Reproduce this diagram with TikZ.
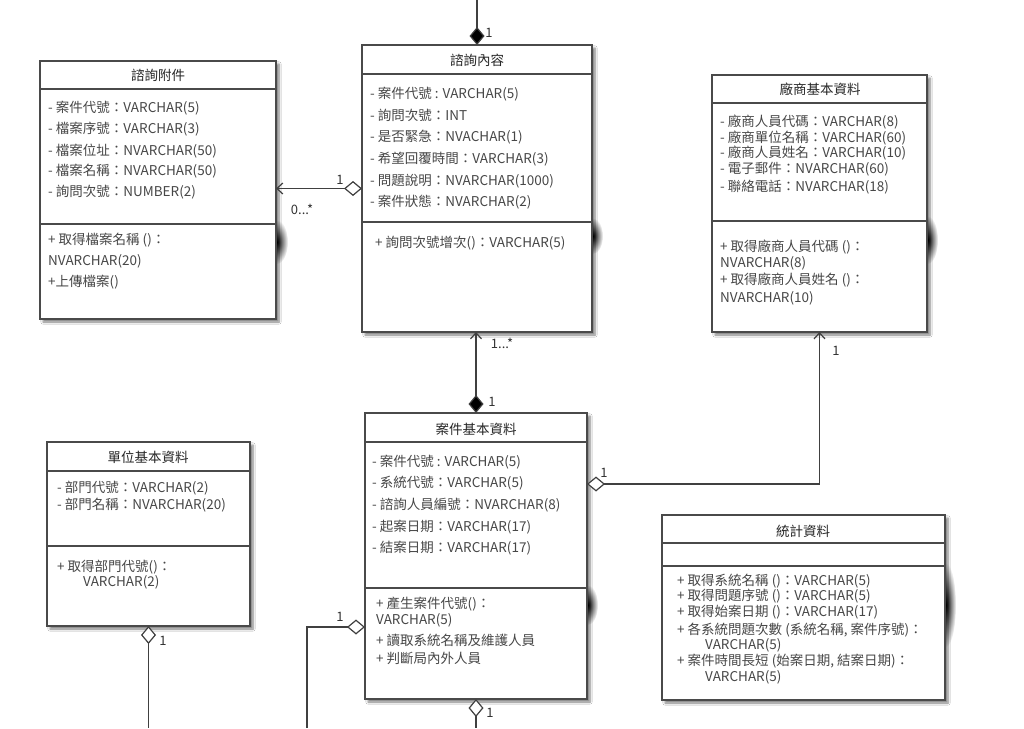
\documentclass[tikz,border=0pt]{standalone}
\usepackage{fontspec}
\setmainfont{Noto Sans CJK TC}
\usetikzlibrary{arrows.meta,shadows.blur,fadings}
\definecolor{bord}{HTML}{4A4A4A}
\definecolor{txt}{HTML}{474747}
\tikzfading[name=blobfade, inner color=transparent!0, outer color=transparent!100]
\begin{document}
\begin{tikzpicture}[x=1pt,y=-1pt,
  cbox/.style={draw=bord, line width=1.4pt, fill=white, inner sep=0pt, outer sep=0pt, anchor=north west,
    blur shadow={shadow xshift=3pt, shadow yshift=-3pt, shadow blur steps=6, shadow opacity=50}},
  divl/.style={draw=bord, line width=1.2pt},
  attr/.style={anchor=west, inner sep=0pt, text=txt, font=\fontsize{13.5}{15}\selectfont},
  ttl/.style={inner sep=0pt, text=black!85, font=\fontsize{13.5}{15}\selectfont},
  lbl/.style={inner sep=0pt, text=black!80, font=\fontsize{13}{15}\selectfont},
  conn/.style={draw=black!75, line width=1.2pt},
  blob/.style={fill=black, path fading=blobfade},
  fdiam/.tip={Diamond[fill=black, length=18pt, width=15pt]},
  odiam/.tip={Diamond[fill=white, length=18pt, width=15pt]},
  barb/.tip={Straight Barb[length=6pt, width=11pt]}
]
\useasboundingbox (0,0) rectangle (1024,728);
\fill[white] (0,0) rectangle (1024,728);

% side smears
\fill[blob] (277,242) ellipse [x radius=11pt, y radius=22pt];
\fill[blob] (593,236) ellipse [x radius=10pt, y radius=18pt];
\fill[blob] (928,240) ellipse [x radius=10pt, y radius=24pt];
\fill[blob] (588,605) ellipse [x radius=10pt, y radius=20pt];
\fill[blob] (946,605) ellipse [x radius=10pt, y radius=42pt];

% ---------------- boxes ----------------
\node[cbox, minimum width=236pt, minimum height=258pt] (fj) at (40,61) {};
\node[cbox, minimum width=230pt, minimum height=287pt] (nr) at (362,45) {};
\node[cbox, minimum width=215pt, minimum height=257pt] (cs) at (712,75) {};
\node[cbox, minimum width=203pt, minimum height=184pt] (dw) at (47,442) {};
\node[cbox, minimum width=222pt, minimum height=286pt] (aj) at (365,413) {};
\node[cbox, minimum width=283pt, minimum height=185pt] (tj) at (662,515) {};

% dividers
\draw[divl] ([yshift=-28pt]fj.north west) -- ([yshift=-28pt]fj.north east);
\draw[divl] ([yshift=-163pt]fj.north west) -- ([yshift=-163pt]fj.north east);
\draw[divl] ([yshift=-29pt]nr.north west) -- ([yshift=-29pt]nr.north east);
\draw[divl] ([yshift=-177pt]nr.north west) -- ([yshift=-177pt]nr.north east);
\draw[divl] ([yshift=-28pt]cs.north west) -- ([yshift=-28pt]cs.north east);
\draw[divl] ([yshift=-146pt]cs.north west) -- ([yshift=-146pt]cs.north east);
\draw[divl] ([yshift=-29pt]dw.north west) -- ([yshift=-29pt]dw.north east);
\draw[divl] ([yshift=-104pt]dw.north west) -- ([yshift=-104pt]dw.north east);
\draw[divl] ([yshift=-29pt]aj.north west) -- ([yshift=-29pt]aj.north east);
\draw[divl] ([yshift=-175pt]aj.north west) -- ([yshift=-175pt]aj.north east);
\draw[divl] ([yshift=-28pt]tj.north west) -- ([yshift=-28pt]tj.north east);
\draw[divl] ([yshift=-51pt]tj.north west) -- ([yshift=-51pt]tj.north east);

% ---------------- 諮詢附件 ----------------
\node[ttl] (fj-t) at (158,75) {諮詢附件};
\node[attr] (fj-a1) at (48,108) {- 案件代號：VARCHAR(5)};
\node[attr] (fj-a2) at (48,129) {- 檔案序號：VARCHAR(3)};
\node[attr] (fj-a3) at (48,151) {- 檔案位址：NVARCHAR(50)};
\node[attr] (fj-a4) at (48,171) {- 檔案名稱：NVARCHAR(50)};
\node[attr] (fj-a5) at (48,192) {- 詢問次號：NUMBER(2)};
\node[attr] (fj-m1) at (48,240) {+ 取得檔案名稱 ()：};
\node[attr] (fj-m2) at (48,261) {NVARCHAR(20)};
\node[attr] (fj-m3) at (48,282) {+上傳檔案()};

% ---------------- 諮詢內容 ----------------
\node[ttl] (nr-t) at (477,60) {諮詢內容};
\node[attr] (nr-a1) at (370,94) {- 案件代號 : VARCHAR(5)};
\node[attr] (nr-a2) at (370,115) {- 詢問次號：INT};
\node[attr] (nr-a3) at (370,137) {- 是否緊急：NVACHAR(1)};
\node[attr] (nr-a4) at (370,159) {- 希望回覆時間：VARCHAR(3)};
\node[attr] (nr-a5) at (370,181) {- 問題說明：NVARCHAR(1000)};
\node[attr] (nr-a6) at (370,202) {- 案件狀態：NVARCHAR(2)};
\node[attr] (nr-m1) at (375,243) {+ 詢問次號增次()：VARCHAR(5)};

% ---------------- 廠商基本資料 ----------------
\node[ttl] (cs-t) at (820,89) {廠商基本資料};
\node[attr] (cs-a1) at (720,122) {- 廠商人員代碼：VARCHAR(8)};
\node[attr] (cs-a2) at (720,138) {- 廠商單位名稱：VARCHAR(60)};
\node[attr] (cs-a3) at (720,153) {- 廠商人員姓名：VARCHAR(10)};
\node[attr] (cs-a4) at (720,169) {- 電子郵件：NVARCHAR(60)};
\node[attr] (cs-a5) at (720,187) {- 聯絡電話：NVARCHAR(18)};
\node[attr] (cs-m1) at (720,247) {+ 取得廠商人員代碼 ()：};
\node[attr] (cs-m2) at (720,263) {NVARCHAR(8)};
\node[attr] (cs-m3) at (720,280) {+ 取得廠商人員姓名 ()：};
\node[attr] (cs-m4) at (720,298) {NVARCHAR(10)};

% ---------------- 單位基本資料 ----------------
\node[ttl] (dw-t) at (148,457) {單位基本資料};
\node[attr] (dw-a1) at (57,488) {- 部門代號：VARCHAR(2)};
\node[attr] (dw-a2) at (57,505) {- 部門名稱：NVARCHAR(20)};
\node[attr] (dw-m1) at (57,567) {+ 取得部門代號()：};
\node[attr] (dw-m2) at (83,582) {VARCHAR(2)};

% ---------------- 案件基本資料 ----------------
\node[ttl] (aj-t) at (476,429) {案件基本資料};
\node[attr] (aj-a1) at (372,462) {- 案件代號 : VARCHAR(5)};
\node[attr] (aj-a2) at (372,483) {- 系統代號：VARCHAR(5)};
\node[attr] (aj-a3) at (372,505) {- 諮詢人員編號：NVARCHAR(8)};
\node[attr] (aj-a4) at (372,527) {- 起案日期：VARCHAR(17)};
\node[attr] (aj-a5) at (372,548) {- 結案日期：VARCHAR(17)};
\node[attr] (aj-m1) at (376,604) {+ 產生案件代號()：};
\node[attr] (aj-m2) at (376,620) {VARCHAR(5)};
\node[attr] (aj-m3) at (376,640) {+ 讀取系統名稱及維護人員};
\node[attr] (aj-m4) at (376,658) {+ 判斷局內外人員};

% ---------------- 統計資料 ----------------
\node[ttl] (tj-t) at (803,531) {統計資料};
\node[attr] (tj-m1) at (677,581) {+ 取得系統名稱 ()：VARCHAR(5)};
\node[attr] (tj-m2) at (677,596) {+ 取得問題序號 ()：VARCHAR(5)};
\node[attr] (tj-m3) at (677,612) {+ 取得始案日期 ()：VARCHAR(17)};
\node[attr] (tj-m4) at (677,630) {+ 各系統問題次數 (系統名稱, 案件序號)：};
\node[attr] (tj-m5) at (705,645) {VARCHAR(5)};
\node[attr] (tj-m6) at (677,661) {+ 案件時間長短 (始案日期, 結案日期)：};
\node[attr] (tj-m7) at (705,677) {VARCHAR(5)};

% ---------------- connectors ----------------
\coordinate (topend) at (477,0);
\coordinate (bl) at (307,728);
\coordinate (ajb) at (476,728);
\coordinate (dwb) at (148.5,728);

\draw[conn, -fdiam] (topend) -- (nr.north);
\draw[conn, odiam-barb] (nr.west) -- (nr.west -| fj.east);
\draw[conn, barb-fdiam] (aj.north |- nr.south) -- (aj.north);
\draw[conn, odiam-barb] ([yshift=-71pt]aj.north east) -| (cs.south);
\draw[conn, odiam-] ([yshift=-214pt]aj.north west) -| (bl);
\draw[conn, odiam-] (aj.south) -- (ajb);
\draw[conn, odiam-] (dw.south) -- (dwb);

% multiplicities
\node[lbl] (l1) at (489,33) {1};
\node[lbl] (l2) at (340,180) {1};
\node[lbl] (l3) at (302,209) {0...*};
\node[lbl] (l4) at (502,343) {1...*};
\node[lbl] (l5) at (492,402) {1};
\node[lbl] (l6) at (604,473) {1};
\node[lbl] (l7) at (836,351) {1};
\node[lbl] (l8) at (340,617) {1};
\node[lbl] (l9) at (490,713) {1};
\node[lbl] (l10) at (163,641) {1};
\end{tikzpicture}
\end{document}
